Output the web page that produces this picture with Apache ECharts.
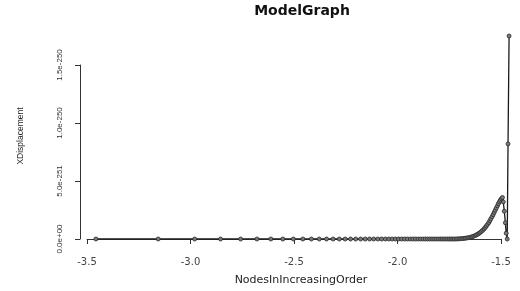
<!DOCTYPE html>
<html>
<head>
<meta charset="utf-8">
<script src="https://cdn.jsdelivr.net/npm/echarts@6/dist/echarts.min.js"></script>
<style>
  html, body { margin: 0; padding: 0; background: #fff; }
  #chart { width: 520px; height: 291px; }
</style>
</head>
<body>
<div id="chart"></div>
<script>
// x positions of the nodes, in increasing order
const nodeX = [
  -3.457, -3.156, -2.980, -2.855, -2.758, -2.679, -2.612, -2.554, -2.503, -2.457,
  -2.416, -2.378, -2.343, -2.311, -2.281, -2.253, -2.227, -2.202, -2.178, -2.156,
  -2.135, -2.115, -2.095, -2.077, -2.059, -2.042, -2.026, -2.010, -1.995, -1.980,
  -1.966, -1.952, -1.938, -1.926, -1.913, -1.901, -1.889, -1.877, -1.866, -1.855,
  -1.844, -1.834, -1.824, -1.814, -1.804, -1.794, -1.785, -1.776, -1.767, -1.758,
  -1.749, -1.741, -1.733, -1.725, -1.717, -1.709, -1.701, -1.694, -1.686, -1.679,
  -1.672, -1.665, -1.658, -1.651, -1.644, -1.637, -1.631, -1.624, -1.618, -1.612,
  -1.606, -1.600, -1.594, -1.588, -1.582, -1.576, -1.571, -1.565, -1.559, -1.554,
  -1.549, -1.543, -1.538, -1.533, -1.528, -1.523, -1.517, -1.513, -1.508, -1.503,
  -1.498, -1.493, -1.489, -1.484, -1.479, -1.475, -1.470, -1.466, -1.461
];
// displacement, in units of 1e-251
const xDisplacement = [
  0, 0, 0, 0, 0, 0, 0, 0, 0, 0,
  0, 0, 0, 0, 0, 0, 0, 0, 0, 0,
  0, 0, 0, 0, 0, 0, 0, 0, 0, 0,
  0, 0, 0, 0, 0, 0, 0, 0, 0, 0,
  0, 0, 0, 0, 0, 0, 0, 0, 0, 0,
  0, 0, 0, 0, 0, 0.01, 0.02, 0.03, 0.04, 0.05,
  0.07, 0.09, 0.11, 0.14, 0.17, 0.21, 0.25, 0.3, 0.36, 0.42,
  0.49, 0.57, 0.66, 0.76, 0.87, 0.99, 1.12, 1.26, 1.41, 1.57,
  1.74, 1.92, 2.1, 2.29, 2.48, 2.67, 2.86, 3.04, 3.2, 3.35,
  3.48, 3.58, 3.2, 2.4, 1.4, 0.5, 0, 8.2, 17.5
];
const xTicks = ['-3.5', '-3.0', '-2.5', '-2.0', '-1.5'];
const yTicks = ['0.0e+00', '5.0e-251', '1.0e-250', '1.5e-250'];

const chart = echarts.init(document.getElementById('chart'));
const points = nodeX.map((x, i) => [x, xDisplacement[i]]);

// grid 0 carries the R style axes (ticks span only -3.5..-1.5 and 0..1.5e-250),
// grid 1 is a bit larger with the same scale so the last nodes are not clipped
const pxPerX = (520 - 87 - 19) / 2;
const pxPerY = (291 - 65 - 52) / 15;

chart.setOption({
  animation: false,
  backgroundColor: '#fff',
  grid: [
    { left: 87, right: 19, top: 65, bottom: 52 },
    { left: 87, right: 4, top: 20, bottom: 52 }
  ],
  xAxis: [
    {
      type: 'value',
      gridIndex: 0,
      min: -3.5,
      max: -1.5,
      interval: 0.5,
      offset: 10,
      axisLine: { show: true, lineStyle: { color: '#333', width: 1 } },
      axisTick: { show: true, length: 5, lineStyle: { color: '#333' } },
      splitLine: { show: false },
      axisLabel: {
        margin: 8,
        color: '#444',
        fontFamily: 'DejaVu Sans',
        fontSize: 10,
        formatter: (v) => xTicks[Math.round((v + 3.5) / 0.5)]
      }
    },
    {
      type: 'value',
      gridIndex: 1,
      min: -3.5,
      max: -3.5 + (520 - 87 - 4) / pxPerX,
      show: false
    }
  ],
  yAxis: [
    {
      type: 'value',
      gridIndex: 0,
      min: 0,
      max: 15,
      interval: 5,
      offset: 7,
      axisLine: { show: true, lineStyle: { color: '#333', width: 1 } },
      axisTick: { show: true, length: 5, lineStyle: { color: '#333' } },
      splitLine: { show: false },
      axisLabel: {
        rotate: 90,
        margin: 16,
        color: '#333',
        fontFamily: 'Liberation Sans',
        fontSize: 8,
        formatter: (v) => yTicks[Math.round(v / 5)]
      }
    },
    {
      type: 'value',
      gridIndex: 1,
      min: 0,
      max: (291 - 20 - 52) / pxPerY,
      show: false
    }
  ],
  graphic: [
    {
      type: 'text', x: 302, y: 11,
      style: { text: 'ModelGraph', font: 'bold 14px "DejaVu Sans"', fill: '#111', align: 'center', verticalAlign: 'middle' }
    },
    {
      type: 'text', x: 301, y: 280,
      style: { text: 'NodesInIncreasingOrder', font: '11px "DejaVu Sans"', fill: '#222', align: 'center', verticalAlign: 'middle' }
    },
    {
      type: 'text', x: 21, y: 136, rotation: Math.PI / 2,
      style: { text: 'XDisplacement', font: '8.5px "Liberation Sans"', fill: '#222', align: 'center', verticalAlign: 'middle' }
    }
  ],
  series: [
    {
      type: 'line',
      xAxisIndex: 1,
      yAxisIndex: 1,
      data: points,
      symbol: 'circle',
      symbolSize: 4,
      showAllSymbol: true,
      lineStyle: { color: '#1a1a1a', width: 1.3 },
      itemStyle: { color: '#7a7a7a', borderColor: '#2a2a2a', borderWidth: 0.8 }
    }
  ]
});
</script>
</body>
</html>
